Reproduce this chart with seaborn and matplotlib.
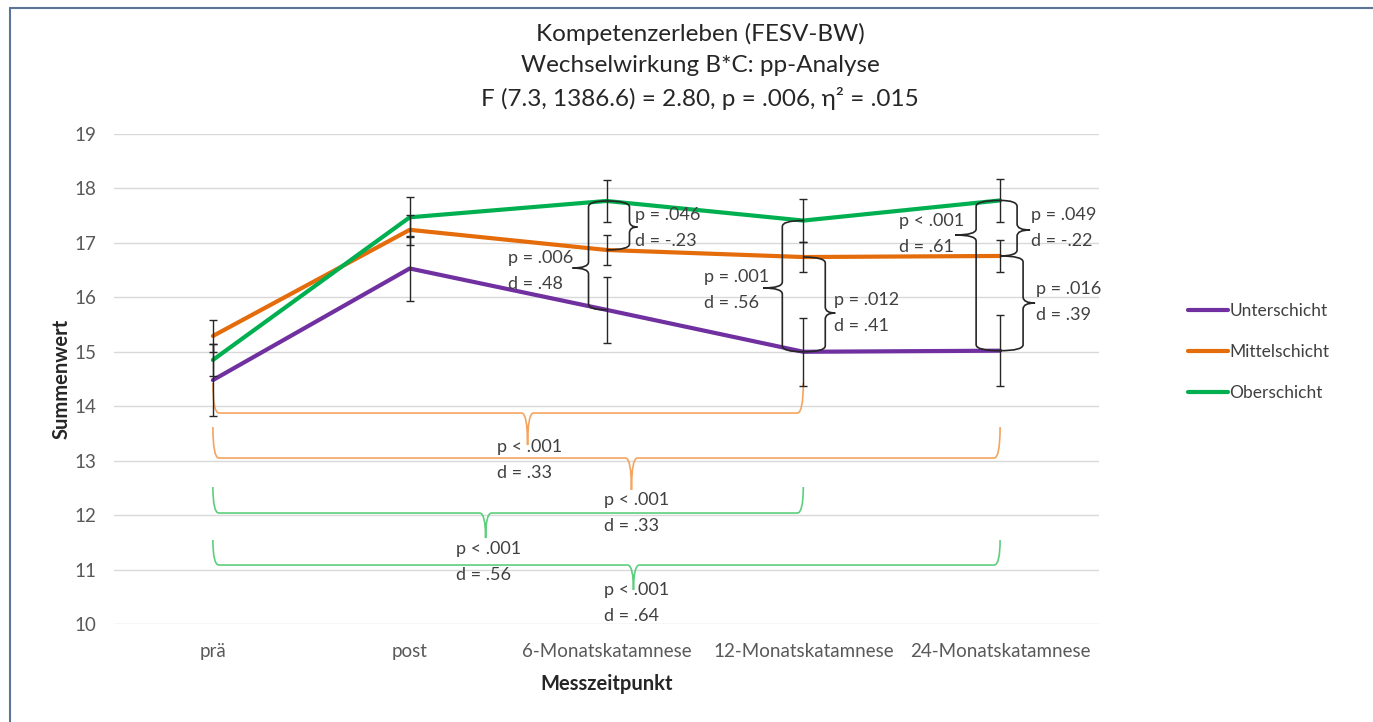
import numpy as np
import pandas as pd
import matplotlib
matplotlib.use("Agg")
import matplotlib.pyplot as plt
from matplotlib.path import Path
from matplotlib.patches import PathPatch
import seaborn as sns

# Daten
zeitpunkte = ["prä", "post", "6-Monatskatamnese", "12-Monatskatamnese", "24-Monatskatamnese"]
gruppen = ["Unterschicht", "Mittelschicht", "Oberschicht"]
unterschicht = [14.48, 16.53, 15.77, 15.00, 15.02]
mittelschicht = [15.29, 17.24, 16.87, 16.74, 16.76]
oberschicht = [14.85, 17.47, 17.77, 17.41, 17.78]
err_unter = [0.66, 0.60, 0.60, 0.62, 0.65]
err_mittel = [0.29, 0.28, 0.27, 0.28, 0.30]
err_ober = [0.30, 0.37, 0.38, 0.40, 0.39]

# Vergleiche zwischen Gruppen
brace_labels = [("p = .006", "d = .48"), ("p = .046", "d = -.23"), ("p = .001", "d = .56"),
                ("p = .012", "d = .41"), ("p < .001", "d = .61"), ("p = .049", "d = -.22"),
                ("p = .016", "d = .39")]
# Vergleiche über die Zeit
zeit_labels = [("p < .001", "d = .33"), ("p < .001", "d = .33"),
               ("p < .001", "d = .56"), ("p < .001", "d = .64")]

farben = {"Unterschicht": "#7030a0", "Mittelschicht": "#e46c0a", "Oberschicht": "#00b050"}
werte = {"Unterschicht": unterschicht, "Mittelschicht": mittelschicht, "Oberschicht": oberschicht}
fehler = {"Unterschicht": err_unter, "Mittelschicht": err_mittel, "Oberschicht": err_ober}

df = pd.DataFrame({
    "Messzeitpunkt": zeitpunkte * 3,
    "Summenwert": unterschicht + mittelschicht + oberschicht,
    "Gruppe": np.repeat(gruppen, 5),
    "x": list(range(5)) * 3,
})

sns.set_style("white")
plt.rcParams["font.family"] = ["Lato", "DejaVu Sans"]

fig = plt.figure(figsize=(13.73, 7.22), dpi=100)
ax = fig.add_axes([114.5 / 1373, 1 - 624 / 722, 984 / 1373, 490 / 722])

# Pixel -> Daten
PXX = 1 / 197.0
PXY = 1 / 54.44


def px(xp, yp):
    return (xp - 213) * PXX, 19 - (yp - 134) * PXY


sns.lineplot(data=df, x="x", y="Summenwert", hue="Gruppe", palette=farben,
             linewidth=3, ax=ax, legend=False, zorder=3)
for g in gruppen:
    ax.errorbar(range(5), werte[g], yerr=fehler[g], fmt="none", ecolor="#262626",
                elinewidth=1, capsize=3, capthick=1, zorder=4)

ax.set_xlim(-0.5, 4.5)
ax.set_ylim(10, 19)
ax.set_yticks(range(10, 20))
ax.set_xticks(range(5))
ax.set_xticklabels(zeitpunkte)
ax.grid(axis="y", color="#d9d9d9", linewidth=1)
ax.grid(axis="x", visible=False)
for s in ax.spines.values():
    s.set_visible(False)
ax.tick_params(axis="both", length=0, labelsize=13.5, colors="#595959")
ax.tick_params(axis="x", pad=14)
ax.tick_params(axis="y", pad=13)
ax.set_xlabel("Messzeitpunkt", fontsize=14.5, fontweight="bold", color="#262626", labelpad=10)
ax.set_ylabel("Summenwert", fontsize=14.5, fontweight="bold", color="#262626", labelpad=2)


def vbrace(x, y_top, y_bot, tip_y, spine_dx, tip_dx, color="#262626", lw=1.2):
    # vertikale geschweifte Klammer, x in Daten, Abstände in Pixel
    xs = x + spine_dx * PXX
    xt = x + tip_dx * PXX
    r = 6 * PXY
    verts = [(x, y_top), (xs, y_top), (xs, y_top - r),
             (xs, tip_y + r), (xs, tip_y), (xt, tip_y),
             (xs, tip_y), (xs, tip_y - r),
             (xs, y_bot + r), (xs, y_bot), (x, y_bot)]
    codes = [Path.MOVETO, Path.CURVE3, Path.CURVE3,
             Path.LINETO, Path.CURVE3, Path.CURVE3,
             Path.CURVE3, Path.CURVE3,
             Path.LINETO, Path.CURVE3, Path.CURVE3]
    ax.add_patch(PathPatch(Path(verts, codes), fill=False, edgecolor=color, lw=lw, zorder=5))


def hbrace(x0, x1, y_px, hook_px, tip_x, tip_px, color, lw=1.2):
    y = 19 - (y_px - 134) * PXY
    yh = y + hook_px * PXY
    yt = y - tip_px * PXY
    r = 6 * PXX
    verts = [(x0, yh), (x0, y), (x0 + r, y),
             (tip_x - r, y), (tip_x, y), (tip_x, yt),
             (tip_x, y), (tip_x + r, y),
             (x1 - r, y), (x1, y), (x1, yh)]
    codes = [Path.MOVETO, Path.CURVE3, Path.CURVE3,
             Path.LINETO, Path.CURVE3, Path.CURVE3,
             Path.CURVE3, Path.CURVE3,
             Path.LINETO, Path.CURVE3, Path.CURVE3]
    ax.add_patch(PathPatch(Path(verts, codes), fill=False, edgecolor=color, lw=lw, zorder=2))


def zweizeiler(lines, xp, yp, gap=26):
    for i, t in enumerate(lines):
        xd, yd = px(xp, yp + i * gap)
        ax.text(xd, yd, t, fontsize=13, color="#404040", ha="left", va="center", zorder=6)


U, M, O = unterschicht, mittelschicht, oberschicht
# schwarze Klammern
vbrace(2, O[2], U[2], px(0, 268)[1], -18, -34)
vbrace(2, O[2], M[2], px(0, 227)[1], 23, 31)
vbrace(3, O[3], U[3], px(0, 288)[1], -21, -40)
vbrace(3, M[3], U[3], px(0, 313)[1], 22, 32)
vbrace(4, O[4], U[4], px(0, 235)[1], -24, -45)
vbrace(4, O[4], M[4], px(0, 230)[1], 17, 30)
vbrace(4, M[4], U[4], px(0, 303)[1], 23, 35)

brace_text_px = [(508, 258), (636, 215), (705, 277), (835, 300), (900, 221), (1032, 215), (1037, 289)]
for lines, (xp, yp) in zip(brace_labels, brace_text_px):
    zweizeiler(lines, xp, yp)

# farbige Klammern unten
hbrace(0, 3, 413, 30, px(528, 0)[0], 32, "#f4a460")
hbrace(0, 4, 458, 31, px(632, 0)[0], 32, "#f4a460")
hbrace(0, 3, 513, 26, px(486, 0)[0], 25, "#5ccf7c")
hbrace(0, 4, 565, 25, px(634, 0)[0], 25, "#5ccf7c")
zeit_text_px = [(497, 447), (604, 500), (456, 549), (604, 590)]
for lines, (xp, yp) in zip(zeit_labels, zeit_text_px):
    zweizeiler(lines, xp, yp)

# Legende
handles = [plt.Line2D([], [], color=farben[g], lw=3) for g in gruppen]
fig.legend(handles, gruppen, loc="upper left", bbox_to_anchor=(1172 / 1373, 1 - 287 / 722),
           frameon=False, fontsize=12.5, handlelength=2.3, handletextpad=0.1,
           labelspacing=1.45, labelcolor="#404040")

# Titel
titel = ["Kompetenzerleben (FESV-BW)", "Wechselwirkung B*C: pp-Analyse",
         "F (7.3, 1386.6) = 2.80, p = .006, η² = .015"]
for t, yp in zip(titel, [34, 65, 98]):
    fig.text(700 / 1373, 1 - yp / 722, t, ha="center", va="center", fontsize=17.5, color="#262626")

# Rahmen
fig.add_artist(plt.Line2D([10 / 1373, 10 / 1373], [0, 1 - 8 / 722], color="#5b7596", lw=1.5))
fig.add_artist(plt.Line2D([10 / 1373, 1], [1 - 8 / 722, 1 - 8 / 722], color="#5b7596", lw=1.5))

fig.savefig("out.png", dpi=100)
